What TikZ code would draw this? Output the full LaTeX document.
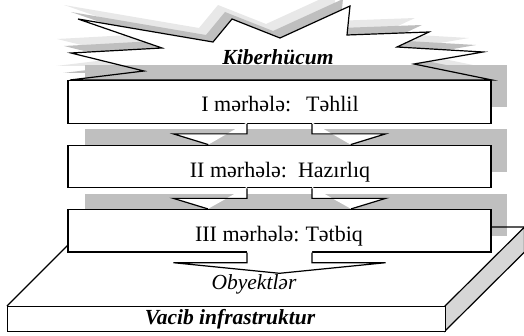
\documentclass[tikz,border=0pt]{standalone}
\usepackage{fontspec}
\setmainfont{Liberation Serif}
\usetikzlibrary{calc}
\definecolor{shadelight}{HTML}{E8E8E8}
\definecolor{shademid}{HTML}{BFBFBF}
\definecolor{sidegray}{HTML}{D6D6D6}
\tikzset{
  outline/.style={line width=1.2pt, line join=miter},
  stagebox/.style={draw=black, line width=1.2pt, fill=white, minimum width=423pt, minimum height=42.6pt, inner sep=0pt},
  stagetext/.style={anchor=base, inner sep=0pt, font=\fontsize{22}{26}\selectfont},
  titletext/.style={anchor=base, inner sep=0pt, font=\fontsize{21.5}{26}\selectfont\bfseries\itshape},
  burst/.pic={\path[pic actions] (78,19) -- (213,42) -- (232,19) -- (280,38) -- (350,6) -- (347,35)
      -- (429,32) -- (397,47) -- (483,52) -- (414,64) -- (492,80) -- (70,80) -- (144,71)
      -- (71,53) -- (162,48) -- cycle;},
}
\begin{document}
\begin{tikzpicture}[x=1pt,y=-1pt]
\useasboundingbox (0,0) rectangle (524,336);
\clip (0,0) rectangle (524,336);

% explosion with its two fading shadows
\pic[fill=shadelight] at (-14,-14) {burst};
\pic[fill=shademid] at (-7,-7) {burst};
\pic[fill=white] at (0,0) {burst};

% drop shadows of the three stage boxes
\fill[shademid] (85,65) rectangle (507,107);
\fill[shademid] (85,129) rectangle (507,172);
\fill[shademid] (85,194) rectangle (507,236);

\pic[draw=black, outline] at (0,0) {burst};

% infrastructure slab
\draw[outline] (7,306) -- (86,227) -- (524.5,227);
\filldraw[outline, fill=sidegray] (445,306) -- (524.5,227) -- (524.5,252) -- (445,331) -- cycle;
\node[draw=black, line width=1.2pt, fill=white, minimum width=438pt, minimum height=25pt,
      inner sep=0pt, anchor=north west] (slab) at (7,306) {};

% stage boxes
\node[stagebox] (b1) at (279.5,102) {};
\node[stagebox] (b2) at (279.5,166.5) {};
\node[stagebox] (b3) at (279.5,230.8) {};
\coordinate (objtip) at (279.5,273.3);

% notched arrows between the stages
\foreach \a/\b in {b1/b2, b2/b3, b3/objtip} {
  \fill[white] ($(\a.south)+(-32.5,-1.5)$) -- ($(\a.south)+(-32.5,10)$) -- ($(\a.south)+(-106,10)$)
    -- (\b) -- ($(\a.south)+(106,10)$) -- ($(\a.south)+(32.5,10)$) -- ($(\a.south)+(32.5,-1.5)$) -- cycle;
  \draw[outline] ($(\a.south)+(-32.5,0)$) -- ($(\a.south)+(-32.5,10)$) -- ($(\a.south)+(-106,10)$)
    -- (\b) -- ($(\a.south)+(106,10)$) -- ($(\a.south)+(32.5,10)$) -- ($(\a.south)+(32.5,0)$);
}

% labels
\node[titletext] (kib) at (278,65) {Kiberhücum};
\node[stagetext] (t1) at (280,111.7) {I mərhələ:\hspace{15pt}Təhlil};
\node[stagetext] (t2) at (280,177.5) {II mərhələ:\hspace{11pt}Hazırlıq};
\node[stagetext] (t3) at (279,241.5) {III mərhələ:\hspace{6pt}Tətbiq};
\node[anchor=base, inner sep=0pt, font=\fontsize{21.5}{26}\selectfont\itshape] (obj) at (254,289.3) {Obyektlər};
\node[titletext] (vac) at (230,324.3) {Vacib infrastruktur};
\end{tikzpicture}
\end{document}
